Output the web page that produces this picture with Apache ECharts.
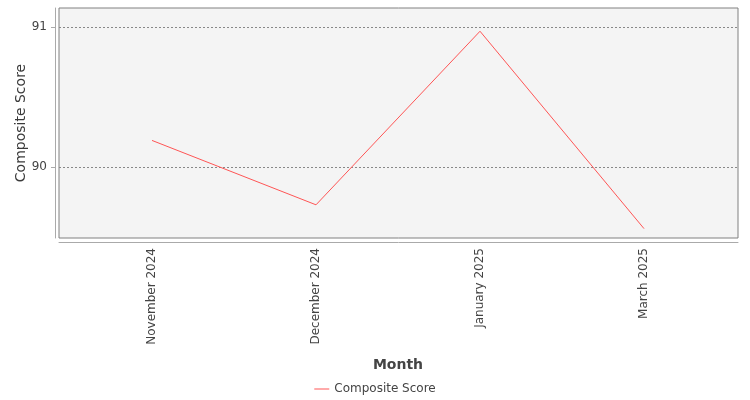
<!DOCTYPE html>
<html>
<head>
<meta charset="utf-8">
<script src="https://cdn.jsdelivr.net/npm/echarts@6/dist/echarts.min.js"></script>
<style>
html, body { margin: 0; padding: 0; background: #fff; }
#ct1 { width: 750px; height: 400px; }
</style>
</head>
<body>
<div id="ct1"></div>
<script>
var months = ['November 2024', 'December 2024', 'January 2025', 'March 2025'];
var scores = [90.19, 89.73, 90.97, 89.56];
var yTicks = [90, 91];
var yMin = 89.493, yMax = 91.136;

var font = 'DejaVu Sans';
var txt = '#444444';
var axisGray = '#aaaaaa';

var option1 = {
	animation: false,
	textStyle: { fontFamily: font },
	legend: {
		top: 378,
		left: 'center',
		itemWidth: 15,
		itemHeight: 1,
		icon: 'rect',
		textStyle: { fontFamily: font, fontSize: 12, color: txt },
		data: ['Composite Score']
	},
	grid: [{
		left: 59, right: 12, top: 8, bottom: 162,
		show: true,
		backgroundColor: '#f4f4f4',
		borderColor: '#808080',
		borderWidth: 1
	}, {
		left: 70, right: 24, top: 8, bottom: 162
	}],
	xAxis: [{
		type: 'category',
		gridIndex: 0,
		data: months,
		offset: 4,
		axisLine: { lineStyle: { color: axisGray } },
		axisTick: { show: false },
		axisLabel: { show: false }
	}, {
		type: 'category',
		gridIndex: 1,
		data: months,
		offset: 4,
		boundaryGap: true,
		name: 'Month',
		nameLocation: 'middle',
		nameGap: 116,
		nameTextStyle: { fontFamily: font, fontSize: 14, fontWeight: 'bold', color: txt },
		axisLine: { show: false },
		axisTick: { alignWithLabel: true, length: 4, lineStyle: { color: axisGray } },
		axisLabel: { rotate: 90, margin: 6, fontSize: 12, color: txt, fontFamily: font }
	}],
	yAxis: [{
		type: 'value',
		gridIndex: 0,
		min: yMin,
		max: yMax,
		offset: 4,
		name: 'Composite Score',
		nameLocation: 'middle',
		nameGap: 27,
		nameMoveOverlap: false,
		nameTextStyle: { fontFamily: font, fontSize: 14, color: '#3a3a3a' },
		axisLine: { show: true, onZero: false, lineStyle: { color: axisGray, width: 1 } },
		axisTick: { show: true, length: 4, customValues: yTicks, lineStyle: { color: axisGray } },
		axisLabel: { customValues: yTicks, margin: 8, padding: [4, 0, 0, 0], fontSize: 12, color: txt, fontFamily: font },
		splitLine: { show: true, lineStyle: { color: '#888888', type: [2, 2], width: 1 } }
	}, {
		type: 'value',
		gridIndex: 1,
		min: yMin,
		max: yMax,
		show: false,
		splitLine: { show: false }
	}],
	series: [{
		name: 'Composite Score',
		type: 'line',
		xAxisIndex: 1,
		yAxisIndex: 1,
		data: scores,
		symbol: 'none',
		showSymbol: false,
		lineStyle: { color: '#ff5555', width: 1 },
		itemStyle: { color: '#ff5555' }
	}]
};

var myChart1 = echarts.init(document.getElementById('ct1'));
myChart1.setOption(option1, true);
</script>
</body>
</html>
